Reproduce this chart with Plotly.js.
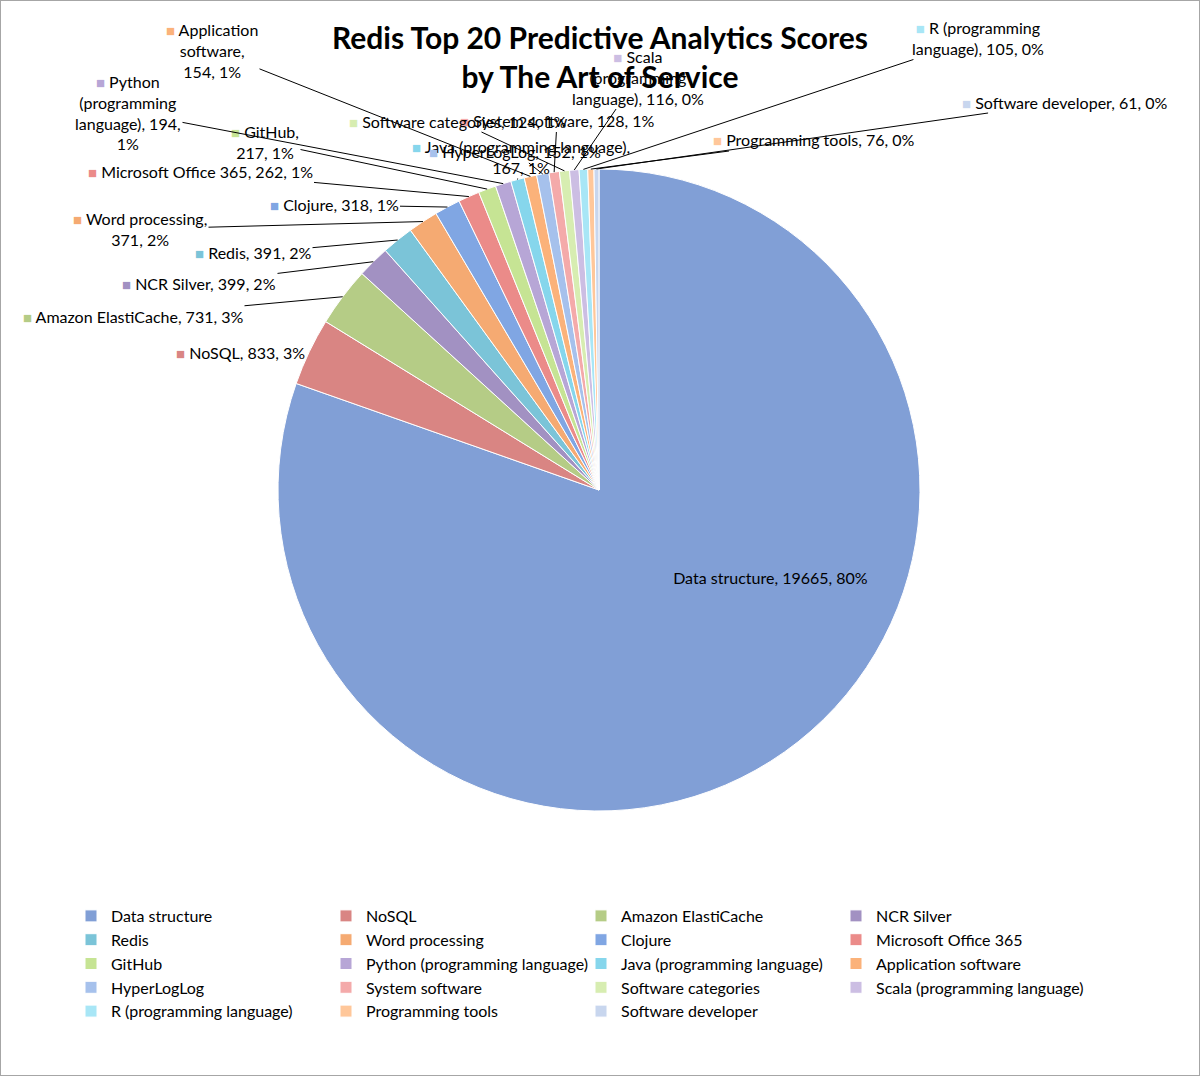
<!DOCTYPE html>
<html>
<head>
<meta charset="utf-8">
<script src="https://cdn.plot.ly/plotly-3.0.1.min.js"></script>
<style>
  body { margin: 0; background: #fff; }
  #chart { width: 1198px; height: 1074px; border: 1px solid #a6a6a6; }
</style>
</head>
<body>
<div id="chart"></div>
<script>
// slice data, in the order Excel draws them (clockwise from 12 o'clock)
const names = [
  "Data structure", "NoSQL", "Amazon ElastiCache", "NCR Silver", "Redis",
  "Word processing", "Clojure", "Microsoft Office 365", "GitHub",
  "Python (programming language)", "Java (programming language)",
  "Application software", "HyperLogLog", "System software",
  "Software categories", "Scala (programming language)",
  "R (programming language)", "Programming tools", "Software developer"
];
const scores = [19665, 833, 731, 399, 391, 371, 318, 262, 217, 194, 167, 154, 152, 128, 124, 116, 105, 76, 61];

const colors = [
  "#819fd6", "#d98583", "#b5cc86", "#a291c2", "#7bc4d8", "#f5aa72",
  "#80a6e3", "#eb8b89", "#c6e494", "#b7a6d6", "#86d6ec", "#fbb27a",
  "#a6c1ec", "#f4aaaa", "#d7edb1", "#ccbee3", "#a8e6f6", "#ffc79a", "#c8d6ee"
];

// where each data label sits (page pixels, text centre), words per line, leader line or not
const labelPos = [
  [764, 577, null, false],
  [240, 352, null, false],
  [133, 316, null, true],
  [199, 283, null, true],
  [253, 253, null, true],
  [140, 229, [2, 2], true],
  [334, 205, null, true],
  [200, 172, null, true],
  [265, 142, [1, 2], true],
  [128, 112, [1, 1, 2, 1], true],
  [521, 157, [3, 2], true],
  [212, 50, [1, 1, 2], true],
  [515, 152, null, true],
  [557, 121, null, true],
  [458, 121, null, true],
  [638, 77, [1, 1, 3], true],
  [978, 38, [2, 3], true],
  [813, 140, null, true],
  [1065, 102, null, true]
];

const W = 1198, H = 1074;
const cx = 598, cy = 489, R = 321;   // pie centre / radius in div pixels

const total = scores.reduce((a, b) => a + b, 0);

function labelText(i) {
  const pct = Math.round(scores[i] / total * 100) + "%";
  const words = (names[i] + ", " + scores[i] + ", " + pct).split(" ");
  const spec = labelPos[i][2];
  let lines = [words.join(" ")];
  if (spec) {
    lines = [];
    let k = 0;
    spec.forEach(n => { lines.push(words.slice(k, k + n).join(" ")); k += n; });
  }
  lines[0] = '<span style="color:' + colors[i] + ';font-size:15px">■</span> ' + lines[0];
  return lines.join("<br>");
}

const annotations = [];
let cum = 0;
scores.forEach((v, i) => {
  const mid = (cum + v / 2) / total * 2 * Math.PI;
  cum += v;
  const ex = cx + R * Math.sin(mid);
  const ey = cy - R * Math.cos(mid);
  const lx = labelPos[i][0] - 1, ly = labelPos[i][1] - 1;
  const a = {
    text: labelText(i),
    xref: "paper", yref: "paper",
    xanchor: "center", yanchor: "middle", align: "center",
    font: { family: "Lato", size: 16, color: "#000" }
  };
  if (labelPos[i][3]) {
    Object.assign(a, {
      x: ex / W, y: 1 - ey / H,
      ax: lx - ex, ay: ly - ey,
      showarrow: true, arrowhead: 0, arrowwidth: 1, arrowcolor: "#000", standoff: 0
    });
  } else {
    Object.assign(a, { x: lx / W, y: 1 - ly / H, showarrow: false });
  }
  annotations.push(a);
});

const data = [{
  type: "pie",
  labels: names,
  values: scores,
  sort: false,
  direction: "clockwise",
  rotation: 0,
  textinfo: "none",
  hoverinfo: "label+value+percent",
  marker: { colors: colors, line: { color: "#fff", width: 1 } },
  domain: { x: [(cx - R) / W, (cx + R) / W], y: [1 - (cy + R) / H, 1 - (cy - R) / H] }
}];

const layout = {
  width: W,
  height: H,
  margin: { t: 0, l: 0, r: 0, b: 0 },
  paper_bgcolor: "#fff",
  title: {
    text: "<b>Redis Top 20 Predictive Analytics Scores<br>by The Art of Service</b>",
    x: 0.5, xanchor: "center",
    y: 1 - 48 / H, yref: "container", yanchor: "top",
    font: { family: "Lato", size: 30, color: "#000" }
  },
  showlegend: true,
  legend: {
    orientation: "h",
    x: 70 / W, xanchor: "left",
    y: 1 - 898 / H, yanchor: "top",
    entrywidth: 210, entrywidthmode: "pixels",
    traceorder: "normal",
    font: { family: "Lato", size: 16, color: "#000" }
  },
  annotations: annotations
};

Plotly.newPlot("chart", data, layout, { displayModeBar: false });
</script>
</body>
</html>
